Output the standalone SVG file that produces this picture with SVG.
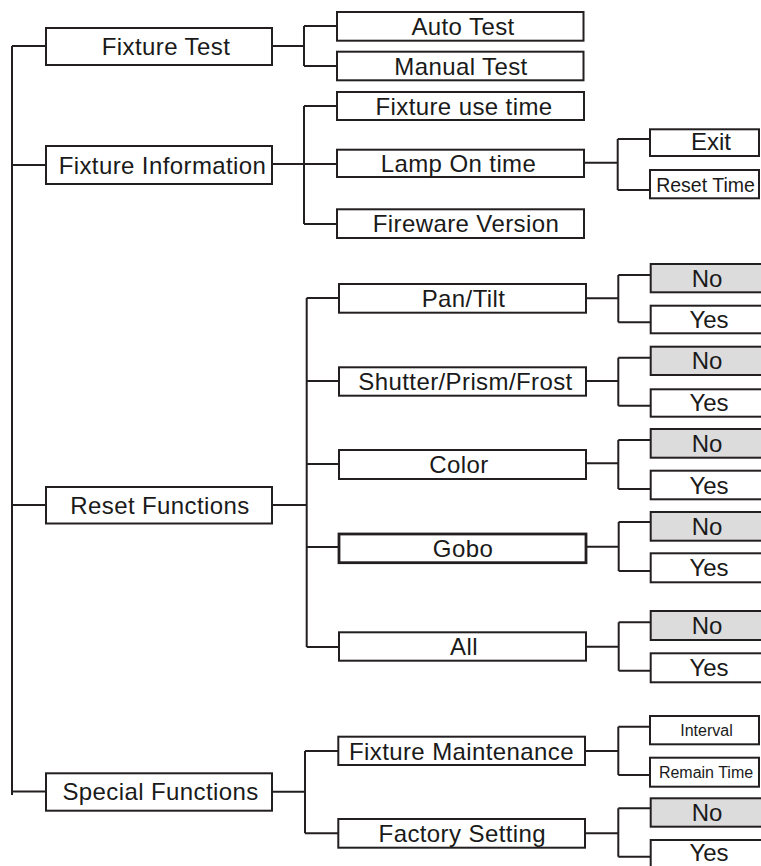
<svg xmlns="http://www.w3.org/2000/svg" width="761" height="866" viewBox="0 0 761 866">
<style>
.b{fill:#fff;stroke:#231f20;stroke-width:2}
.g{fill:#dcdcdc;stroke:#231f20;stroke-width:2}
.bb{fill:#fff;stroke:#231f20;stroke-width:2.8}
.c{fill:none;stroke:#231f20;stroke-width:2}
text{font-family:"Liberation Sans",Arial,sans-serif;fill:#1a1a1a;text-anchor:middle}
.t1{font-size:24px;letter-spacing:0.4px}
.t3{font-size:24px}
.rs{font-size:19.5px}
.sm{font-size:16px}
</style>
<rect width="761" height="866" fill="#fff"/>
<g id="connectors">
<path class="c" d="M12,46V795M12,46H46M12,165H46M12,505H46M12,791.5H46"/>
<path class="c" d="M272,46H304M304,26V66M304,26H337M304,66H337"/>
<path class="c" d="M272,164H304M304,106V224M304,106H337M304,164H337M304,224H337"/>
<path class="c" d="M272,505H306.7M306.7,298V647M306.7,298H339M306.7,381H339M306.7,464H339M306.7,547H339M306.7,647H339"/>
<path class="c" d="M272,791.7H305M305,751V833.3M305,751H338M305,833.3H338"/>
<path class="c" d="M584,162.7H617.7M617.7,139V190M617.7,139H650M617.7,190H650"/>
<path class="c" d="M586,298.3H618.3M618.3,275V322.3M618.3,275H651M618.3,322.3H651"/>
<path class="c" d="M586,381H618.3M618.3,357.7V405.7M618.3,357.7H651M618.3,405.7H651"/>
<path class="c" d="M586,463.3H618.3M618.3,440V489M618.3,440H651M618.3,489H651"/>
<path class="c" d="M586,546.7H618.7M618.7,522V571M618.7,522H651M618.7,571H651"/>
<path class="c" d="M586,646.7H618.7M618.7,622.3V670.7M618.7,622.3H651M618.7,670.7H651"/>
<path class="c" d="M585,751H618.3M618.3,726.7V775M618.3,726.7H650M618.3,775H650"/>
<path class="c" d="M585,833.3H618.3M618.3,808.3V856.7M618.3,808.3H651M618.3,856.7H651"/>
</g>
<g id="fixture-test"><rect class="b" x="46" y="28" width="226" height="37"/><text class="t1" x="166" y="55">Fixture Test</text></g>
<g id="fixture-information"><rect class="b" x="46" y="146" width="226" height="38"/><text class="t1" x="162.5" y="173.5">Fixture Information</text></g>
<g id="reset-functions"><rect class="b" x="46" y="487" width="226" height="36.5"/><text class="t1" x="160" y="513.5">Reset Functions</text></g>
<g id="special-functions"><rect class="b" x="46" y="773.3" width="226" height="37.4"/><text class="t1" x="160.5" y="800.3">Special Functions</text></g>

<g id="auto-test"><rect class="b" x="337" y="12" width="246.5" height="28.7"/><text class="t1" x="463" y="35">Auto Test</text></g>
<g id="manual-test"><rect class="b" x="337" y="51.7" width="246.5" height="28.6"/><text class="t1" x="461" y="74.5">Manual Test</text></g>
<g id="fixture-use-time"><rect class="b" x="337" y="92" width="247" height="28"/><text class="t1" x="464" y="114.5">Fixture use time</text></g>
<g id="lamp-on-time"><rect class="b" x="337" y="149.7" width="247" height="27.3"/><text class="t1" x="458.5" y="172">Lamp On time</text></g>
<g id="fireware-version"><rect class="b" x="337" y="209.3" width="247" height="28.7"/><text class="t1" x="466" y="232.3">Fireware Version</text></g>

<g id="pan-tilt"><rect class="b" x="339" y="284" width="247" height="28.7"/><text class="t1" x="463.5" y="307">Pan/Tilt</text></g>
<g id="shutter-prism-frost"><rect class="b" x="339" y="367.3" width="247" height="28.4"/><text class="t1" x="465.5" y="390">Shutter/Prism/Frost</text></g>
<g id="color"><rect class="b" x="339" y="450" width="247" height="29"/><text class="t1" x="459" y="473">Color</text></g>
<g id="gobo"><rect class="bb" x="339" y="534" width="247" height="28.7"/><text class="t1" x="463" y="556.8">Gobo</text></g>
<g id="all"><rect class="b" x="339" y="632.3" width="247" height="28.4"/><text class="t1" x="464" y="655">All</text></g>
<g id="fixture-maintenance"><rect class="b" x="338.3" y="736.7" width="246.7" height="28.3"/><text class="t1" x="461.5" y="759.5">Fixture Maintenance</text></g>
<g id="factory-setting"><rect class="b" x="338.3" y="819" width="246.7" height="28.7"/><text class="t1" x="462.3" y="841.8">Factory Setting</text></g>

<g id="exit"><rect class="b" x="650" y="129.3" width="109" height="26.7"/><text class="t3" x="711" y="150.3">Exit</text></g>
<g id="reset-time"><rect class="b" x="650" y="170" width="109" height="28.3"/><text class="rs" x="705.5" y="191.5">Reset Time</text></g>

<g id="pan-no"><rect class="g" x="650.7" y="264" width="115" height="28.3"/><text class="t3" x="707" y="286.5">No</text></g>
<g id="pan-yes"><rect class="b" x="650.7" y="305.7" width="115" height="27.6"/><text class="t3" x="709" y="328">Yes</text></g>
<g id="shutter-no"><rect class="g" x="650.7" y="346.7" width="115" height="28.3"/><text class="t3" x="707" y="369.2">No</text></g>
<g id="shutter-yes"><rect class="b" x="650.7" y="389.3" width="115" height="27.4"/><text class="t3" x="709" y="411.3">Yes</text></g>
<g id="color-no"><rect class="g" x="650.7" y="429" width="115" height="28.7"/><text class="t3" x="707" y="451.7">No</text></g>
<g id="color-yes"><rect class="b" x="650.7" y="470.7" width="115" height="28.6"/><text class="t3" x="709" y="493.5">Yes</text></g>
<g id="gobo-no"><rect class="g" x="650.7" y="512" width="115" height="28.7"/><text class="t3" x="707" y="534.7">No</text></g>
<g id="gobo-yes"><rect class="b" x="650.7" y="553.3" width="115" height="29"/><text class="t3" x="709" y="576.3">Yes</text></g>
<g id="all-no"><rect class="g" x="650.7" y="611" width="115" height="29"/><text class="t3" x="707" y="634">No</text></g>
<g id="all-yes"><rect class="b" x="650.7" y="653.3" width="115" height="29"/><text class="t3" x="709" y="676.3">Yes</text></g>

<g id="interval"><rect class="b" x="650" y="716" width="109" height="28.3"/><text class="sm" x="706.5" y="736">Interval</text></g>
<g id="remain-time"><rect class="b" x="650" y="757.7" width="109" height="29"/><text class="sm" x="706" y="777.7">Remain Time</text></g>
<g id="factory-no"><rect class="g" x="650.7" y="798.3" width="115" height="28.4"/><text class="t3" x="707" y="821">No</text></g>
<g id="factory-yes"><rect class="b" x="650.7" y="840" width="115" height="30"/><text class="t3" x="709" y="861">Yes</text></g>
</svg>
